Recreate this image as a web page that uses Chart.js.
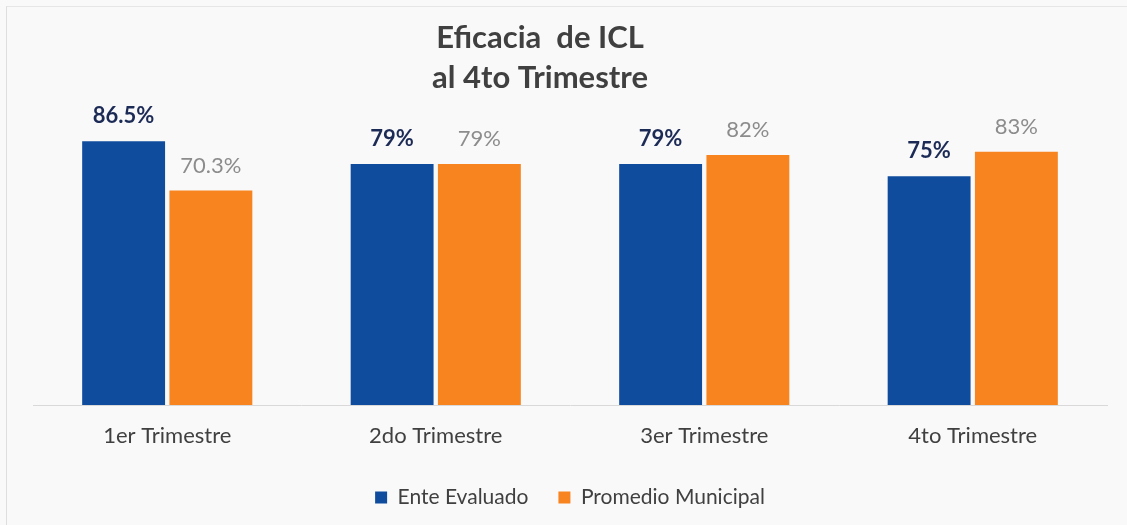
<!DOCTYPE html>
<html>
<head>
<meta charset="utf-8">
<script src="https://cdn.jsdelivr.net/npm/chart.js@4"></script>
<style>
    html, body { margin: 0; padding: 0; background: #f9f9f9; }
    #wrap { position: relative; width: 1127px; height: 525px; }
    #frame { position: absolute; left: 6px; top: 6px; right: 0; bottom: 0; border-left: 1px solid #dedede; border-top: 1px solid #e6e6e6; }
    canvas { position: absolute; left: 0; top: 0; }
</style>
</head>
<body>
<div id="wrap">
    <div id="frame"></div>
    <canvas id="chart" width="1127" height="525"></canvas>
</div>
<script>
// Datos del gráfico
const trimestres = ["1er Trimestre", "2do Trimestre", "3er Trimestre", "4to Trimestre"];
const enteEvaluado = [86.5, 79, 79, 75];
const promedioMunicipal = [70.3, 79, 82, 83];

const FONT = "Lato, 'Open Sans', sans-serif";

// Etiquetas de valor sobre cada barra
const valueLabels = {
    id: "valueLabels",
    afterLayout(chart) {
        // el título está un poco a la izquierda en el original
        chart.titleBlock.left -= 30;
        chart.titleBlock.right -= 30;
    },
    afterDatasetsDraw(chart) {
        const ctx = chart.ctx;
        chart.data.datasets.forEach((ds, i) => {
            const meta = chart.getDatasetMeta(i);
            meta.data.forEach((bar, j) => {
                ctx.save();
                ctx.font = (i === 0 ? "bold " : "") + "22px " + FONT;
                ctx.fillStyle = i === 0 ? "#1c2a56" : "#8c8c8c";
                ctx.textAlign = "center";
                ctx.textBaseline = "alphabetic";
                ctx.fillText(ds.data[j] + "%", bar.x, bar.y - 18);
                ctx.restore();
            });
        });
    }
};

new Chart(document.getElementById("chart"), {
    type: "bar",
    data: {
        labels: trimestres,
        datasets: [
            {
                label: "Ente Evaluado",
                data: enteEvaluado,
                backgroundColor: "#0f4c9e",
                barPercentage: 0.95,
                categoryPercentage: 0.65,
            },
            {
                label: "Promedio Municipal",
                data: promedioMunicipal,
                backgroundColor: "#f7841f",
                barPercentage: 0.95,
                categoryPercentage: 0.65,
            },
        ],
    },
    options: {
        responsive: false,
        animation: false,
        layout: { padding: { left: 33, right: 20, top: 0, bottom: 7 } },
        plugins: {
            title: {
                display: true,
                text: ["Eficacia  de ICL", "al 4to Trimestre"],
                color: "#404040",
                font: { family: FONT, size: 31, weight: "bold", lineHeight: 1.29 },
                padding: { top: 18, bottom: 2 },
            },
            legend: {
                display: true,
                position: "bottom",
                labels: {
                    color: "#404040",
                    font: { family: FONT, size: 21 },
                    boxWidth: 12,
                    boxHeight: 12,
                    padding: 30,
                },
            },
            tooltip: { enabled: false },
        },
        scales: {
            y: { display: false, min: 0, max: 100 },
            x: {
                grid: { display: false, drawTicks: false },
                border: { display: true, color: "#d9d9d9", width: 1 },
                ticks: { color: "#404040", font: { family: FONT, size: 22 }, padding: 18 },
                afterFit(scale) { scale.height = 52; },
            },
        },
    },
    plugins: [valueLabels],
});
</script>
</body>
</html>
